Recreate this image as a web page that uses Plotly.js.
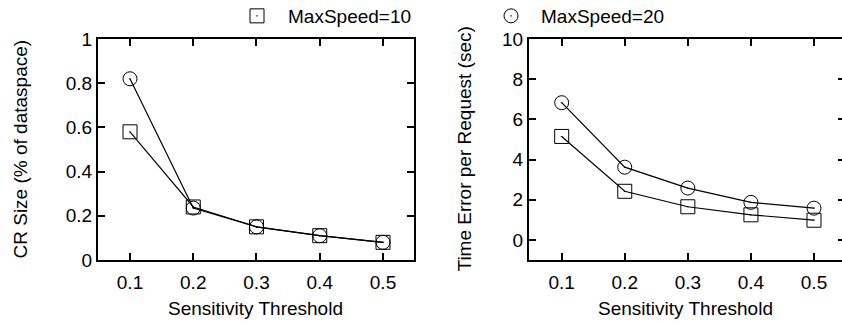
<!DOCTYPE html>
<html>
<head>
<meta charset="utf-8">
<script src="https://cdn.plot.ly/plotly-3.0.1.min.js"></script>
<style>html,body{margin:0;padding:0;background:#fff;}#chart{width:842px;height:324px;}</style>
</head>
<body>
<div id="chart"></div>
<script>
var thresholds = [0.1, 0.2, 0.3, 0.4, 0.5];
var seriesNames = ['MaxSpeed=10', 'MaxSpeed=20'];
var crSize10 = [0.58, 0.24, 0.15, 0.11, 0.08];
var crSize20 = [0.82, 0.235, 0.15, 0.11, 0.08];
var timeErr10 = [5.15, 2.42, 1.65, 1.25, 0.98];
var timeErr20 = [6.83, 3.62, 2.58, 1.87, 1.58];
var xTicks = [0.1, 0.2, 0.3, 0.4, 0.5];
var xTickText = ['0.1', '0.2', '0.3', '0.4', '0.5'];
var leftYTicks = [0, 0.2, 0.4, 0.6, 0.8, 1];
var leftYTickText = ['0', '0.2', '0.4', '0.6', '0.8', '1'];
var rightYTicks = [0, 2, 4, 6, 8, 10];
var rightYTickText = ['0', '2', '4', '6', '8', '10'];
var xTitle = 'Sensitivity Threshold';
var leftYTitle = 'CR Size (% of dataspace)';
var rightYTitle = 'Time Error per Request (sec)';

var FONT = '"Liberation Sans", Arial, Helvetica, sans-serif';
var lineStyle = {color: '#000', width: 1.2};
var symbols = ['square-open-dot', 'circle-open-dot'];
var TF = {family: FONT, size: 19, color: '#000'};

function lineTrace(x, y, xa, ya) {
  return {x: x, y: y, xaxis: xa, yaxis: ya, mode: 'lines', line: lineStyle,
          showlegend: false, hoverinfo: 'skip'};
}
function markTrace(x, y, xa, ya, sym, name, show, leg) {
  return {x: x, y: y, xaxis: xa, yaxis: ya, mode: 'markers', name: name,
          marker: {symbol: sym, size: 14, color: '#000', line: {color: '#000', width: 1}},
          showlegend: show, legend: leg};
}

var data = [
  lineTrace(thresholds, crSize10, 'x', 'y'),
  lineTrace(thresholds, crSize20, 'x', 'y'),
  lineTrace(thresholds, timeErr10, 'x2', 'y2'),
  lineTrace(thresholds, timeErr20, 'x2', 'y2'),
  markTrace(thresholds, crSize10, 'x', 'y', symbols[0], seriesNames[0], true, 'legend'),
  markTrace(thresholds, crSize20, 'x', 'y', symbols[1], seriesNames[1], true, 'legend2'),
  markTrace(thresholds, timeErr10, 'x2', 'y2', symbols[0], seriesNames[0], false, 'legend'),
  markTrace(thresholds, timeErr20, 'x2', 'y2', symbols[1], seriesNames[1], false, 'legend2'),
  // invisible carrier so the right-hand mirror tick axis is drawn
  {x: thresholds, y: timeErr10, xaxis: 'x2', yaxis: 'y3', mode: 'markers',
   marker: {opacity: 0}, showlegend: false, hoverinfo: 'skip'}
];

function xAxis(domain, range, anchor) {
  return {domain: domain, range: range, anchor: anchor, automargin: false,
    tickvals: xTicks, ticktext: xTickText, ticks: 'inside', ticklen: 7, tickwidth: 2, tickcolor: '#000',
    showline: true, linewidth: 2, linecolor: '#000', mirror: 'ticks', showgrid: false, zeroline: false,
    tickangle: 0, ticklabelstandoff: 4, tickfont: TF};
}

var layout = {
  width: 842, height: 324,
  margin: {l: 98, r: 0, t: 39, b: 64, autoexpand: false},
  paper_bgcolor: '#fff', plot_bgcolor: '#fff',
  font: TF,
  xaxis: xAxis([0, 0.4247], [0.0494, 0.549], 'y'),
  xaxis2: xAxis([0.5793, 1], [0.0482, 0.5444], 'y2'),
  yaxis: {domain: [0, 1], range: [0, 1], anchor: 'x', automargin: false,
    tickvals: leftYTicks, ticktext: leftYTickText, ticks: 'inside', ticklen: 7, tickwidth: 2, tickcolor: '#000',
    showline: true, linewidth: 2, linecolor: '#000', mirror: 'ticks', showgrid: false, zeroline: false,
    tickfont: TF},
  yaxis2: {domain: [0, 1], range: [-1, 10], anchor: 'x2', automargin: false,
    tickvals: rightYTicks, ticktext: rightYTickText, ticks: 'inside', ticklen: 7, tickwidth: 2, tickcolor: '#000',
    showline: true, linewidth: 2, linecolor: '#000', mirror: false, showgrid: false, zeroline: false,
    ticksuffix: '\u2002\u2009', tickfont: TF},
  yaxis3: {overlaying: 'y2', side: 'right', anchor: 'x2', range: [-1, 10], automargin: false,
    tickvals: rightYTicks, ticks: 'inside', ticklen: 4, tickwidth: 2, tickcolor: '#000',
    showline: false, showgrid: false, zeroline: false, showticklabels: false},
  annotations: [
    {text: leftYTitle, xref: 'paper', yref: 'paper', x: (20 - 98) / 744, y: 0.5, textangle: -90,
     showarrow: false, font: TF, xanchor: 'center', yanchor: 'middle'},
    {text: rightYTitle, xref: 'paper', yref: 'paper', x: (464 - 98) / 744, y: 0.5, textangle: -90,
     showarrow: false, font: TF, xanchor: 'center', yanchor: 'middle'},
    {text: xTitle, xref: 'x domain', yref: 'paper', x: 0.5, y: (260 - 308) / 221,
     showarrow: false, font: TF, xanchor: 'center', yanchor: 'middle'},
    {text: xTitle, xref: 'x2 domain', yref: 'paper', x: (686 - 529) / 313, y: (260 - 308) / 221,
     showarrow: false, font: TF, xanchor: 'center', yanchor: 'middle'}
  ],
  legend: {xref: 'container', yref: 'container', x: 226 / 842, y: 1 - 16 / 324,
    xanchor: 'left', yanchor: 'middle', itemwidth: 52, bgcolor: 'rgba(0,0,0,0)', font: TF},
  legend2: {xref: 'container', yref: 'container', x: 481 / 842, y: 1 - 16 / 324,
    xanchor: 'left', yanchor: 'middle', itemwidth: 50, bgcolor: 'rgba(0,0,0,0)', font: TF},
  showlegend: true
};

Plotly.newPlot('chart', data, layout, {displayModeBar: false, staticPlot: true});
</script>
</body>
</html>
